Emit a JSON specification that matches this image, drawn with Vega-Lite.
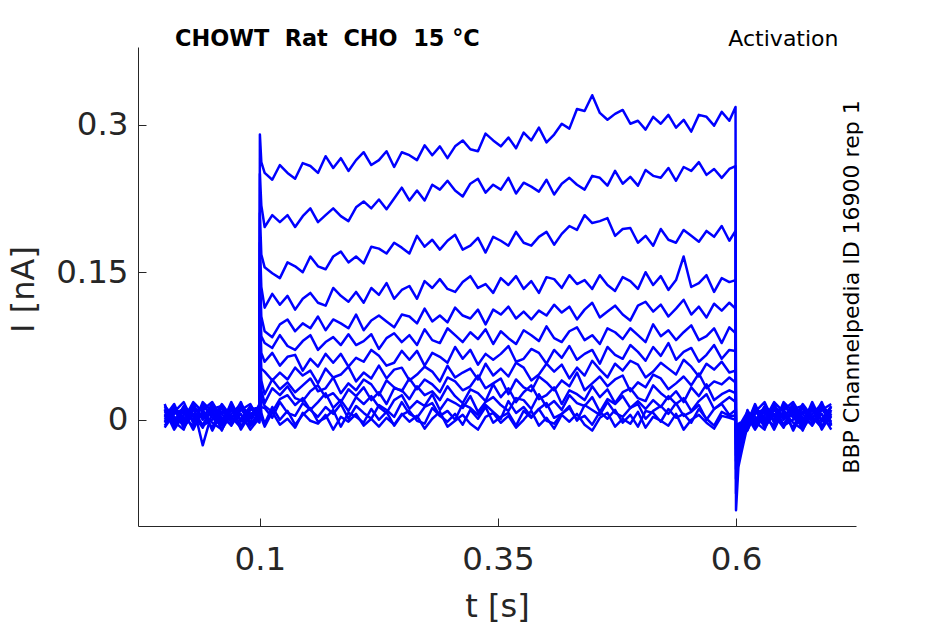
{
  "$schema": "https://vega.github.io/schema/vega-lite/v6.json",
  "width": 718,
  "height": 479,
  "autosize": {"type": "none"},
  "padding": {"left": 138, "top": 47, "right": 89, "bottom": 98},
  "background": "white",
  "config": {"view": {"stroke": null}, "font": "DejaVu Sans"},
  "title": {
    "text": "CHOWT\u00a0 Rat\u00a0 CHO\u00a0 15 °C",
    "anchor": "start", "frame": "group", "dx": 37, "dy": 41, "offset": 0,
    "baseline": "alphabetic",
    "fontSize": 22.4, "fontWeight": "bold", "color": "#000000", "font": "DejaVu Sans"
  },
  "data": {
    "values": [
      {"s":1,"t":0,"i":0.006},{"s":1,"t":0.01,"i":-0.005},{"s":1,"t":0.02,"i":0.013},{"s":1,"t":0.03,"i":-0.002},{"s":1,"t":0.04,"i":0.016},{"s":1,"t":0.05,"i":0.002},{"s":1,"t":0.06,"i":-0.006},{"s":1,"t":0.07,"i":0.010},{"s":1,"t":0.08,"i":0.000},{"s":1,"t":0.09,"i":0.014},{"s":1,"t":0.0995,"i":0.005},
      {"s":1,"t":0.1,"i":0.290},{"s":1,"t":0.1015,"i":0.262},
      {"s":1,"t":0.105,"i":0.251},{"s":1,"t":0.113,"i":0.244},{"s":1,"t":0.121,"i":0.259},{"s":1,"t":0.129,"i":0.251},{"s":1,"t":0.137,"i":0.245},{"s":1,"t":0.145,"i":0.261},{"s":1,"t":0.153,"i":0.258},{"s":1,"t":0.161,"i":0.251},{"s":1,"t":0.169,"i":0.268},{"s":1,"t":0.177,"i":0.256},
      {"s":1,"t":0.185,"i":0.266},{"s":1,"t":0.193,"i":0.253},{"s":1,"t":0.201,"i":0.264},{"s":1,"t":0.209,"i":0.272},{"s":1,"t":0.217,"i":0.259},{"s":1,"t":0.225,"i":0.264},{"s":1,"t":0.233,"i":0.273},{"s":1,"t":0.241,"i":0.257},{"s":1,"t":0.249,"i":0.272},{"s":1,"t":0.257,"i":0.269},
      {"s":1,"t":0.265,"i":0.264},{"s":1,"t":0.273,"i":0.279},{"s":1,"t":0.281,"i":0.269},{"s":1,"t":0.289,"i":0.278},{"s":1,"t":0.297,"i":0.266},{"s":1,"t":0.305,"i":0.278},{"s":1,"t":0.313,"i":0.284},{"s":1,"t":0.321,"i":0.275},{"s":1,"t":0.329,"i":0.273},{"s":1,"t":0.337,"i":0.291},
      {"s":1,"t":0.345,"i":0.284},{"s":1,"t":0.353,"i":0.278},{"s":1,"t":0.361,"i":0.287},{"s":1,"t":0.369,"i":0.276},{"s":1,"t":0.377,"i":0.292},{"s":1,"t":0.385,"i":0.284},{"s":1,"t":0.393,"i":0.297},{"s":1,"t":0.401,"i":0.282},{"s":1,"t":0.409,"i":0.290},{"s":1,"t":0.417,"i":0.301},
      {"s":1,"t":0.425,"i":0.296},{"s":1,"t":0.433,"i":0.316},{"s":1,"t":0.441,"i":0.314},{"s":1,"t":0.449,"i":0.330},{"s":1,"t":0.457,"i":0.312},{"s":1,"t":0.465,"i":0.305},{"s":1,"t":0.473,"i":0.311},{"s":1,"t":0.481,"i":0.315},{"s":1,"t":0.489,"i":0.301},{"s":1,"t":0.497,"i":0.304},
      {"s":1,"t":0.505,"i":0.295},{"s":1,"t":0.513,"i":0.308},{"s":1,"t":0.521,"i":0.301},{"s":1,"t":0.529,"i":0.310},{"s":1,"t":0.537,"i":0.297},{"s":1,"t":0.545,"i":0.305},{"s":1,"t":0.553,"i":0.293},{"s":1,"t":0.561,"i":0.310},{"s":1,"t":0.569,"i":0.308},{"s":1,"t":0.577,"i":0.299},
      {"s":1,"t":0.585,"i":0.313},{"s":1,"t":0.593,"i":0.304},{"s":1,"t":0.5995,"i":0.318},
      {"s":1,"t":0.6,"i":-0.092},{"s":1,"t":0.6025,"i":-0.048},{"s":1,"t":0.606,"i":-0.032},
      {"s":1,"t":0.612,"i":-0.006},{"s":1,"t":0.62,"i":0.013},{"s":1,"t":0.63,"i":0.002},{"s":1,"t":0.64,"i":-0.006},{"s":1,"t":0.65,"i":0.018},{"s":1,"t":0.66,"i":0.008},{"s":1,"t":0.67,"i":-0.002},{"s":1,"t":0.68,"i":0.014},{"s":1,"t":0.69,"i":-0.010},{"s":1,"t":0.7,"i":0.006},

      {"s":2,"t":0,"i":-0.002},{"s":2,"t":0.01,"i":0.011},{"s":2,"t":0.02,"i":-0.008},{"s":2,"t":0.03,"i":0.006},{"s":2,"t":0.04,"i":0.003},{"s":2,"t":0.05,"i":0.013},{"s":2,"t":0.06,"i":-0.003},{"s":2,"t":0.07,"i":0.016},{"s":2,"t":0.08,"i":0.000},{"s":2,"t":0.09,"i":-0.006},{"s":2,"t":0.0995,"i":0.008},
      {"s":2,"t":0.1,"i":0.250},{"s":2,"t":0.1015,"i":0.218},
      {"s":2,"t":0.105,"i":0.196},{"s":2,"t":0.113,"i":0.208},{"s":2,"t":0.121,"i":0.201},{"s":2,"t":0.129,"i":0.208},{"s":2,"t":0.137,"i":0.196},{"s":2,"t":0.145,"i":0.207},{"s":2,"t":0.153,"i":0.215},{"s":2,"t":0.161,"i":0.201},{"s":2,"t":0.169,"i":0.208},{"s":2,"t":0.177,"i":0.215},
      {"s":2,"t":0.185,"i":0.207},{"s":2,"t":0.193,"i":0.202},{"s":2,"t":0.201,"i":0.216},{"s":2,"t":0.209,"i":0.222},{"s":2,"t":0.217,"i":0.215},{"s":2,"t":0.225,"i":0.224},{"s":2,"t":0.233,"i":0.214},{"s":2,"t":0.241,"i":0.225},{"s":2,"t":0.249,"i":0.236},{"s":2,"t":0.257,"i":0.223},
      {"s":2,"t":0.265,"i":0.233},{"s":2,"t":0.273,"i":0.223},{"s":2,"t":0.281,"i":0.239},{"s":2,"t":0.289,"i":0.234},{"s":2,"t":0.297,"i":0.243},{"s":2,"t":0.305,"i":0.233},{"s":2,"t":0.313,"i":0.227},{"s":2,"t":0.321,"i":0.240},{"s":2,"t":0.329,"i":0.245},{"s":2,"t":0.337,"i":0.231},
      {"s":2,"t":0.345,"i":0.239},{"s":2,"t":0.353,"i":0.234},{"s":2,"t":0.361,"i":0.246},{"s":2,"t":0.369,"i":0.230},{"s":2,"t":0.377,"i":0.241},{"s":2,"t":0.385,"i":0.237},{"s":2,"t":0.393,"i":0.232},{"s":2,"t":0.401,"i":0.244},{"s":2,"t":0.409,"i":0.229},{"s":2,"t":0.417,"i":0.240},
      {"s":2,"t":0.425,"i":0.246},{"s":2,"t":0.433,"i":0.239},{"s":2,"t":0.441,"i":0.234},{"s":2,"t":0.449,"i":0.248},{"s":2,"t":0.457,"i":0.246},{"s":2,"t":0.465,"i":0.238},{"s":2,"t":0.473,"i":0.253},{"s":2,"t":0.481,"i":0.240},{"s":2,"t":0.489,"i":0.247},{"s":2,"t":0.497,"i":0.238},
      {"s":2,"t":0.505,"i":0.254},{"s":2,"t":0.513,"i":0.248},{"s":2,"t":0.521,"i":0.246},{"s":2,"t":0.529,"i":0.256},{"s":2,"t":0.537,"i":0.243},{"s":2,"t":0.545,"i":0.257},{"s":2,"t":0.553,"i":0.253},{"s":2,"t":0.561,"i":0.262},{"s":2,"t":0.569,"i":0.249},{"s":2,"t":0.577,"i":0.255},
      {"s":2,"t":0.585,"i":0.246},{"s":2,"t":0.593,"i":0.255},{"s":2,"t":0.5995,"i":0.258},
      {"s":2,"t":0.6,"i":-0.075},{"s":2,"t":0.6025,"i":-0.040},{"s":2,"t":0.606,"i":-0.028},
      {"s":2,"t":0.612,"i":0.005},{"s":2,"t":0.62,"i":-0.003},{"s":2,"t":0.63,"i":0.014},{"s":2,"t":0.64,"i":0.005},{"s":2,"t":0.65,"i":-0.008},{"s":2,"t":0.66,"i":0.013},{"s":2,"t":0.67,"i":0.006},{"s":2,"t":0.68,"i":-0.006},{"s":2,"t":0.69,"i":0.010},{"s":2,"t":0.7,"i":0.016},

      {"s":3,"t":0,"i":0.013},{"s":3,"t":0.01,"i":0.000},{"s":3,"t":0.02,"i":0.008},{"s":3,"t":0.03,"i":-0.010},{"s":3,"t":0.04,"i":0.010},{"s":3,"t":0.05,"i":0.018},{"s":3,"t":0.06,"i":0.002},{"s":3,"t":0.07,"i":-0.005},{"s":3,"t":0.08,"i":0.013},{"s":3,"t":0.09,"i":0.006},{"s":3,"t":0.0995,"i":-0.003},
      {"s":3,"t":0.1,"i":0.210},{"s":3,"t":0.1015,"i":0.168},
      {"s":3,"t":0.105,"i":0.155},{"s":3,"t":0.113,"i":0.149},{"s":3,"t":0.121,"i":0.144},{"s":3,"t":0.129,"i":0.160},{"s":3,"t":0.137,"i":0.156},{"s":3,"t":0.145,"i":0.150},{"s":3,"t":0.153,"i":0.166},{"s":3,"t":0.161,"i":0.156},{"s":3,"t":0.169,"i":0.153},{"s":3,"t":0.177,"i":0.166},
      {"s":3,"t":0.185,"i":0.171},{"s":3,"t":0.193,"i":0.160},{"s":3,"t":0.201,"i":0.166},{"s":3,"t":0.209,"i":0.159},{"s":3,"t":0.217,"i":0.176},{"s":3,"t":0.225,"i":0.174},{"s":3,"t":0.233,"i":0.169},{"s":3,"t":0.241,"i":0.180},{"s":3,"t":0.249,"i":0.175},{"s":3,"t":0.257,"i":0.169},
      {"s":3,"t":0.265,"i":0.187},{"s":3,"t":0.273,"i":0.176},{"s":3,"t":0.281,"i":0.183},{"s":3,"t":0.289,"i":0.173},{"s":3,"t":0.297,"i":0.182},{"s":3,"t":0.305,"i":0.188},{"s":3,"t":0.313,"i":0.173},{"s":3,"t":0.321,"i":0.177},{"s":3,"t":0.329,"i":0.185},{"s":3,"t":0.337,"i":0.170},
      {"s":3,"t":0.345,"i":0.186},{"s":3,"t":0.353,"i":0.182},{"s":3,"t":0.361,"i":0.177},{"s":3,"t":0.369,"i":0.191},{"s":3,"t":0.377,"i":0.180},{"s":3,"t":0.385,"i":0.177},{"s":3,"t":0.393,"i":0.186},{"s":3,"t":0.401,"i":0.191},{"s":3,"t":0.409,"i":0.178},{"s":3,"t":0.417,"i":0.189},
      {"s":3,"t":0.425,"i":0.197},{"s":3,"t":0.433,"i":0.193},{"s":3,"t":0.441,"i":0.208},{"s":3,"t":0.449,"i":0.200},{"s":3,"t":0.457,"i":0.202},{"s":3,"t":0.465,"i":0.205},{"s":3,"t":0.473,"i":0.187},{"s":3,"t":0.481,"i":0.194},{"s":3,"t":0.489,"i":0.195},{"s":3,"t":0.497,"i":0.180},
      {"s":3,"t":0.505,"i":0.187},{"s":3,"t":0.513,"i":0.177},{"s":3,"t":0.521,"i":0.194},{"s":3,"t":0.529,"i":0.183},{"s":3,"t":0.537,"i":0.180},{"s":3,"t":0.545,"i":0.193},{"s":3,"t":0.553,"i":0.187},{"s":3,"t":0.561,"i":0.181},{"s":3,"t":0.569,"i":0.192},{"s":3,"t":0.577,"i":0.186},
      {"s":3,"t":0.585,"i":0.197},{"s":3,"t":0.593,"i":0.182},{"s":3,"t":0.5995,"i":0.192},
      {"s":3,"t":0.6,"i":-0.060},{"s":3,"t":0.6025,"i":-0.035},{"s":3,"t":0.606,"i":-0.024},
      {"s":3,"t":0.612,"i":-0.003},{"s":3,"t":0.62,"i":0.016},{"s":3,"t":0.63,"i":-0.006},{"s":3,"t":0.64,"i":0.010},{"s":3,"t":0.65,"i":0.011},{"s":3,"t":0.66,"i":-0.011},{"s":3,"t":0.67,"i":0.008},{"s":3,"t":0.68,"i":0.002},{"s":3,"t":0.69,"i":0.014},{"s":3,"t":0.7,"i":-0.005},

      {"s":4,"t":0,"i":0.002},{"s":4,"t":0.01,"i":0.014},{"s":4,"t":0.02,"i":-0.003},{"s":4,"t":0.03,"i":0.011},{"s":4,"t":0.04,"i":-0.006},{"s":4,"t":0.05,"i":0.000},{"s":4,"t":0.06,"i":0.016},{"s":4,"t":0.07,"i":0.003},{"s":4,"t":0.08,"i":-0.008},{"s":4,"t":0.09,"i":0.010},{"s":4,"t":0.0995,"i":0.013},
      {"s":4,"t":0.1,"i":0.180},{"s":4,"t":0.1015,"i":0.135},
      {"s":4,"t":0.105,"i":0.114},{"s":4,"t":0.113,"i":0.128},{"s":4,"t":0.121,"i":0.117},{"s":4,"t":0.129,"i":0.126},{"s":4,"t":0.137,"i":0.112},{"s":4,"t":0.145,"i":0.123},{"s":4,"t":0.153,"i":0.129},{"s":4,"t":0.161,"i":0.119},{"s":4,"t":0.169,"i":0.116},{"s":4,"t":0.177,"i":0.134},
      {"s":4,"t":0.185,"i":0.126},{"s":4,"t":0.193,"i":0.120},{"s":4,"t":0.201,"i":0.130},{"s":4,"t":0.209,"i":0.119},{"s":4,"t":0.217,"i":0.134},{"s":4,"t":0.225,"i":0.127},{"s":4,"t":0.233,"i":0.139},{"s":4,"t":0.241,"i":0.123},{"s":4,"t":0.249,"i":0.132},{"s":4,"t":0.257,"i":0.136},
      {"s":4,"t":0.265,"i":0.123},{"s":4,"t":0.273,"i":0.141},{"s":4,"t":0.281,"i":0.134},{"s":4,"t":0.289,"i":0.143},{"s":4,"t":0.297,"i":0.133},{"s":4,"t":0.305,"i":0.130},{"s":4,"t":0.313,"i":0.140},{"s":4,"t":0.321,"i":0.146},{"s":4,"t":0.329,"i":0.134},{"s":4,"t":0.337,"i":0.138},
      {"s":4,"t":0.345,"i":0.129},{"s":4,"t":0.353,"i":0.144},{"s":4,"t":0.361,"i":0.137},{"s":4,"t":0.369,"i":0.146},{"s":4,"t":0.377,"i":0.133},{"s":4,"t":0.385,"i":0.141},{"s":4,"t":0.393,"i":0.129},{"s":4,"t":0.401,"i":0.145},{"s":4,"t":0.409,"i":0.143},{"s":4,"t":0.417,"i":0.134},
      {"s":4,"t":0.425,"i":0.147},{"s":4,"t":0.433,"i":0.138},{"s":4,"t":0.441,"i":0.142},{"s":4,"t":0.449,"i":0.133},{"s":4,"t":0.457,"i":0.147},{"s":4,"t":0.465,"i":0.137},{"s":4,"t":0.473,"i":0.131},{"s":4,"t":0.481,"i":0.145},{"s":4,"t":0.489,"i":0.141},{"s":4,"t":0.497,"i":0.133},
      {"s":4,"t":0.505,"i":0.150},{"s":4,"t":0.513,"i":0.137},{"s":4,"t":0.521,"i":0.146},{"s":4,"t":0.529,"i":0.132},{"s":4,"t":0.537,"i":0.142},{"s":4,"t":0.545,"i":0.166},{"s":4,"t":0.553,"i":0.135},{"s":4,"t":0.561,"i":0.139},{"s":4,"t":0.569,"i":0.147},{"s":4,"t":0.577,"i":0.130},
      {"s":4,"t":0.585,"i":0.144},{"s":4,"t":0.593,"i":0.140},{"s":4,"t":0.5995,"i":0.142},
      {"s":4,"t":0.6,"i":-0.050},{"s":4,"t":0.6025,"i":-0.030},{"s":4,"t":0.606,"i":-0.020},
      {"s":4,"t":0.612,"i":-0.010},{"s":4,"t":0.62,"i":0.006},{"s":4,"t":0.63,"i":0.011},{"s":4,"t":0.64,"i":0.000},{"s":4,"t":0.65,"i":0.014},{"s":4,"t":0.66,"i":0.005},{"s":4,"t":0.67,"i":-0.005},{"s":4,"t":0.68,"i":0.018},{"s":4,"t":0.69,"i":-0.002},{"s":4,"t":0.7,"i":0.013},

      {"s":5,"t":0,"i":0.010},{"s":5,"t":0.01,"i":-0.010},{"s":5,"t":0.02,"i":0.005},{"s":5,"t":0.03,"i":0.014},{"s":5,"t":0.04,"i":-0.026},{"s":5,"t":0.05,"i":0.008},{"s":5,"t":0.06,"i":0.011},{"s":5,"t":0.07,"i":0.000},{"s":5,"t":0.08,"i":0.018},{"s":5,"t":0.09,"i":-0.006},{"s":5,"t":0.0995,"i":0.003},
      {"s":5,"t":0.1,"i":0.150},{"s":5,"t":0.1015,"i":0.105},
      {"s":5,"t":0.105,"i":0.090},{"s":5,"t":0.113,"i":0.084},{"s":5,"t":0.121,"i":0.097},{"s":5,"t":0.129,"i":0.102},{"s":5,"t":0.137,"i":0.090},{"s":5,"t":0.145,"i":0.098},{"s":5,"t":0.153,"i":0.093},{"s":5,"t":0.161,"i":0.105},{"s":5,"t":0.169,"i":0.091},{"s":5,"t":0.177,"i":0.102},
      {"s":5,"t":0.185,"i":0.098},{"s":5,"t":0.193,"i":0.093},{"s":5,"t":0.201,"i":0.107},{"s":5,"t":0.209,"i":0.091},{"s":5,"t":0.217,"i":0.101},{"s":5,"t":0.225,"i":0.106},{"s":5,"t":0.233,"i":0.100},{"s":5,"t":0.241,"i":0.094},{"s":5,"t":0.249,"i":0.107},{"s":5,"t":0.257,"i":0.105},
      {"s":5,"t":0.265,"i":0.098},{"s":5,"t":0.273,"i":0.113},{"s":5,"t":0.281,"i":0.100},{"s":5,"t":0.289,"i":0.106},{"s":5,"t":0.297,"i":0.099},{"s":5,"t":0.305,"i":0.114},{"s":5,"t":0.313,"i":0.106},{"s":5,"t":0.321,"i":0.103},{"s":5,"t":0.329,"i":0.112},{"s":5,"t":0.337,"i":0.097},
      {"s":5,"t":0.345,"i":0.112},{"s":5,"t":0.353,"i":0.107},{"s":5,"t":0.361,"i":0.115},{"s":5,"t":0.369,"i":0.103},{"s":5,"t":0.377,"i":0.110},{"s":5,"t":0.385,"i":0.102},{"s":5,"t":0.393,"i":0.111},{"s":5,"t":0.401,"i":0.106},{"s":5,"t":0.409,"i":0.117},{"s":5,"t":0.417,"i":0.109},
      {"s":5,"t":0.425,"i":0.115},{"s":5,"t":0.433,"i":0.102},{"s":5,"t":0.441,"i":0.112},{"s":5,"t":0.449,"i":0.119},{"s":5,"t":0.457,"i":0.104},{"s":5,"t":0.465,"i":0.110},{"s":5,"t":0.473,"i":0.116},{"s":5,"t":0.481,"i":0.107},{"s":5,"t":0.489,"i":0.101},{"s":5,"t":0.497,"i":0.116},
      {"s":5,"t":0.505,"i":0.120},{"s":5,"t":0.513,"i":0.110},{"s":5,"t":0.521,"i":0.117},{"s":5,"t":0.529,"i":0.105},{"s":5,"t":0.537,"i":0.113},{"s":5,"t":0.545,"i":0.122},{"s":5,"t":0.553,"i":0.107},{"s":5,"t":0.561,"i":0.115},{"s":5,"t":0.569,"i":0.104},{"s":5,"t":0.577,"i":0.118},
      {"s":5,"t":0.585,"i":0.111},{"s":5,"t":0.593,"i":0.119},{"s":5,"t":0.5995,"i":0.113},
      {"s":5,"t":0.6,"i":-0.042},{"s":5,"t":0.6025,"i":-0.025},{"s":5,"t":0.606,"i":-0.016},
      {"s":5,"t":0.612,"i":0.002},{"s":5,"t":0.62,"i":-0.002},{"s":5,"t":0.63,"i":-0.010},{"s":5,"t":0.64,"i":0.013},{"s":5,"t":0.65,"i":0.002},{"s":5,"t":0.66,"i":0.016},{"s":5,"t":0.67,"i":0.000},{"s":5,"t":0.68,"i":0.011},{"s":5,"t":0.69,"i":-0.006},{"s":5,"t":0.7,"i":0.003},

      {"s":6,"t":0,"i":-0.006},{"s":6,"t":0.01,"i":0.008},{"s":6,"t":0.02,"i":0.018},{"s":6,"t":0.03,"i":-0.003},{"s":6,"t":0.04,"i":0.006},{"s":6,"t":0.05,"i":-0.008},{"s":6,"t":0.06,"i":0.013},{"s":6,"t":0.07,"i":0.002},{"s":6,"t":0.08,"i":0.011},{"s":6,"t":0.09,"i":-0.002},{"s":6,"t":0.0995,"i":0.016},
      {"s":6,"t":0.1,"i":0.130},{"s":6,"t":0.1015,"i":0.085},
      {"s":6,"t":0.105,"i":0.078},{"s":6,"t":0.113,"i":0.073},{"s":6,"t":0.121,"i":0.086},{"s":6,"t":0.129,"i":0.075},{"s":6,"t":0.137,"i":0.071},{"s":6,"t":0.145,"i":0.080},{"s":6,"t":0.153,"i":0.086},{"s":6,"t":0.161,"i":0.071},{"s":6,"t":0.169,"i":0.079},{"s":6,"t":0.177,"i":0.084},
      {"s":6,"t":0.185,"i":0.076},{"s":6,"t":0.193,"i":0.087},{"s":6,"t":0.201,"i":0.076},{"s":6,"t":0.209,"i":0.080},{"s":6,"t":0.217,"i":0.087},{"s":6,"t":0.225,"i":0.072},{"s":6,"t":0.233,"i":0.083},{"s":6,"t":0.241,"i":0.088},{"s":6,"t":0.249,"i":0.079},{"s":6,"t":0.257,"i":0.086},
      {"s":6,"t":0.265,"i":0.076},{"s":6,"t":0.273,"i":0.092},{"s":6,"t":0.281,"i":0.081},{"s":6,"t":0.289,"i":0.078},{"s":6,"t":0.297,"i":0.093},{"s":6,"t":0.305,"i":0.086},{"s":6,"t":0.313,"i":0.079},{"s":6,"t":0.321,"i":0.089},{"s":6,"t":0.329,"i":0.082},{"s":6,"t":0.337,"i":0.092},
      {"s":6,"t":0.345,"i":0.077},{"s":6,"t":0.353,"i":0.090},{"s":6,"t":0.361,"i":0.083},{"s":6,"t":0.369,"i":0.077},{"s":6,"t":0.377,"i":0.091},{"s":6,"t":0.385,"i":0.086},{"s":6,"t":0.393,"i":0.080},{"s":6,"t":0.401,"i":0.095},{"s":6,"t":0.409,"i":0.083},{"s":6,"t":0.417,"i":0.079},
      {"s":6,"t":0.425,"i":0.090},{"s":6,"t":0.433,"i":0.094},{"s":6,"t":0.441,"i":0.081},{"s":6,"t":0.449,"i":0.086},{"s":6,"t":0.457,"i":0.077},{"s":6,"t":0.465,"i":0.093},{"s":6,"t":0.473,"i":0.089},{"s":6,"t":0.481,"i":0.082},{"s":6,"t":0.489,"i":0.093},{"s":6,"t":0.497,"i":0.086},
      {"s":6,"t":0.505,"i":0.079},{"s":6,"t":0.513,"i":0.097},{"s":6,"t":0.521,"i":0.085},{"s":6,"t":0.529,"i":0.091},{"s":6,"t":0.537,"i":0.081},{"s":6,"t":0.545,"i":0.089},{"s":6,"t":0.553,"i":0.096},{"s":6,"t":0.561,"i":0.081},{"s":6,"t":0.569,"i":0.085},{"s":6,"t":0.577,"i":0.093},
      {"s":6,"t":0.585,"i":0.078},{"s":6,"t":0.593,"i":0.094},{"s":6,"t":0.5995,"i":0.088},
      {"s":6,"t":0.6,"i":-0.036},{"s":6,"t":0.6025,"i":-0.020},{"s":6,"t":0.606,"i":-0.013},
      {"s":6,"t":0.612,"i":0.010},{"s":6,"t":0.62,"i":-0.008},{"s":6,"t":0.63,"i":0.010},{"s":6,"t":0.64,"i":0.003},{"s":6,"t":0.65,"i":-0.005},{"s":6,"t":0.66,"i":0.011},{"s":6,"t":0.67,"i":0.014},{"s":6,"t":0.68,"i":-0.003},{"s":6,"t":0.69,"i":0.006},{"s":6,"t":0.7,"i":-0.010},

      {"s":7,"t":0,"i":0.014},{"s":7,"t":0.01,"i":0.003},{"s":7,"t":0.02,"i":-0.005},{"s":7,"t":0.03,"i":0.016},{"s":7,"t":0.04,"i":0.000},{"s":7,"t":0.05,"i":0.010},{"s":7,"t":0.06,"i":-0.011},{"s":7,"t":0.07,"i":0.013},{"s":7,"t":0.08,"i":0.005},{"s":7,"t":0.09,"i":-0.003},{"s":7,"t":0.0995,"i":0.002},
      {"s":7,"t":0.1,"i":0.110},{"s":7,"t":0.1015,"i":0.068},
      {"s":7,"t":0.105,"i":0.059},{"s":7,"t":0.113,"i":0.068},{"s":7,"t":0.121,"i":0.055},{"s":7,"t":0.129,"i":0.064},{"s":7,"t":0.137,"i":0.066},{"s":7,"t":0.145,"i":0.050},{"s":7,"t":0.153,"i":0.062},{"s":7,"t":0.161,"i":0.054},{"s":7,"t":0.169,"i":0.067},{"s":7,"t":0.177,"i":0.058},
      {"s":7,"t":0.185,"i":0.067},{"s":7,"t":0.193,"i":0.054},{"s":7,"t":0.201,"i":0.063},{"s":7,"t":0.209,"i":0.059},{"s":7,"t":0.217,"i":0.071},{"s":7,"t":0.225,"i":0.065},{"s":7,"t":0.233,"i":0.055},{"s":7,"t":0.241,"i":0.058},{"s":7,"t":0.249,"i":0.070},{"s":7,"t":0.257,"i":0.061},
      {"s":7,"t":0.265,"i":0.070},{"s":7,"t":0.273,"i":0.055},{"s":7,"t":0.281,"i":0.068},{"s":7,"t":0.289,"i":0.064},{"s":7,"t":0.297,"i":0.058},{"s":7,"t":0.305,"i":0.074},{"s":7,"t":0.313,"i":0.062},{"s":7,"t":0.321,"i":0.071},{"s":7,"t":0.329,"i":0.056},{"s":7,"t":0.337,"i":0.067},
      {"s":7,"t":0.345,"i":0.061},{"s":7,"t":0.353,"i":0.067},{"s":7,"t":0.361,"i":0.075},{"s":7,"t":0.369,"i":0.059},{"s":7,"t":0.377,"i":0.062},{"s":7,"t":0.385,"i":0.072},{"s":7,"t":0.393,"i":0.068},{"s":7,"t":0.401,"i":0.057},{"s":7,"t":0.409,"i":0.071},{"s":7,"t":0.417,"i":0.063},
      {"s":7,"t":0.425,"i":0.075},{"s":7,"t":0.433,"i":0.061},{"s":7,"t":0.441,"i":0.067},{"s":7,"t":0.449,"i":0.071},{"s":7,"t":0.457,"i":0.057},{"s":7,"t":0.465,"i":0.074},{"s":7,"t":0.473,"i":0.066},{"s":7,"t":0.481,"i":0.062},{"s":7,"t":0.489,"i":0.076},{"s":7,"t":0.497,"i":0.069},
      {"s":7,"t":0.505,"i":0.060},{"s":7,"t":0.513,"i":0.074},{"s":7,"t":0.521,"i":0.065},{"s":7,"t":0.529,"i":0.078},{"s":7,"t":0.537,"i":0.061},{"s":7,"t":0.545,"i":0.069},{"s":7,"t":0.553,"i":0.073},{"s":7,"t":0.561,"i":0.059},{"s":7,"t":0.569,"i":0.066},{"s":7,"t":0.577,"i":0.076},
      {"s":7,"t":0.585,"i":0.062},{"s":7,"t":0.593,"i":0.071},{"s":7,"t":0.5995,"i":0.070},
      {"s":7,"t":0.6,"i":-0.030},{"s":7,"t":0.6025,"i":-0.016},{"s":7,"t":0.606,"i":-0.010},
      {"s":7,"t":0.612,"i":-0.008},{"s":7,"t":0.62,"i":0.010},{"s":7,"t":0.63,"i":0.000},{"s":7,"t":0.64,"i":0.018},{"s":7,"t":0.65,"i":0.008},{"s":7,"t":0.66,"i":-0.003},{"s":7,"t":0.67,"i":-0.010},{"s":7,"t":0.68,"i":0.006},{"s":7,"t":0.69,"i":0.016},{"s":7,"t":0.7,"i":0.002},

      {"s":8,"t":0,"i":0.000},{"s":8,"t":0.01,"i":0.013},{"s":8,"t":0.02,"i":0.002},{"s":8,"t":0.03,"i":-0.006},{"s":8,"t":0.04,"i":0.018},{"s":8,"t":0.05,"i":0.008},{"s":8,"t":0.06,"i":-0.002},{"s":8,"t":0.07,"i":0.014},{"s":8,"t":0.08,"i":-0.010},{"s":8,"t":0.09,"i":0.006},{"s":8,"t":0.0995,"i":0.011},
      {"s":8,"t":0.1,"i":0.090},{"s":8,"t":0.1015,"i":0.052},
      {"s":8,"t":0.105,"i":0.049},{"s":8,"t":0.113,"i":0.040},{"s":8,"t":0.121,"i":0.048},{"s":8,"t":0.129,"i":0.041},{"s":8,"t":0.137,"i":0.053},{"s":8,"t":0.145,"i":0.045},{"s":8,"t":0.153,"i":0.050},{"s":8,"t":0.161,"i":0.037},{"s":8,"t":0.169,"i":0.052},{"s":8,"t":0.177,"i":0.043},
      {"s":8,"t":0.185,"i":0.046},{"s":8,"t":0.193,"i":0.054},{"s":8,"t":0.201,"i":0.039},{"s":8,"t":0.209,"i":0.048},{"s":8,"t":0.217,"i":0.042},{"s":8,"t":0.225,"i":0.055},{"s":8,"t":0.233,"i":0.042},{"s":8,"t":0.241,"i":0.051},{"s":8,"t":0.249,"i":0.053},{"s":8,"t":0.257,"i":0.040},
      {"s":8,"t":0.265,"i":0.046},{"s":8,"t":0.273,"i":0.054},{"s":8,"t":0.281,"i":0.049},{"s":8,"t":0.289,"i":0.039},{"s":8,"t":0.297,"i":0.055},{"s":8,"t":0.305,"i":0.043},{"s":8,"t":0.313,"i":0.048},{"s":8,"t":0.321,"i":0.052},{"s":8,"t":0.329,"i":0.041},{"s":8,"t":0.337,"i":0.057},
      {"s":8,"t":0.345,"i":0.045},{"s":8,"t":0.353,"i":0.052},{"s":8,"t":0.361,"i":0.044},{"s":8,"t":0.369,"i":0.058},{"s":8,"t":0.377,"i":0.053},{"s":8,"t":0.385,"i":0.040},{"s":8,"t":0.393,"i":0.046},{"s":8,"t":0.401,"i":0.057},{"s":8,"t":0.409,"i":0.049},{"s":8,"t":0.417,"i":0.056},
      {"s":8,"t":0.425,"i":0.042},{"s":8,"t":0.433,"i":0.053},{"s":8,"t":0.441,"i":0.045},{"s":8,"t":0.449,"i":0.060},{"s":8,"t":0.457,"i":0.051},{"s":8,"t":0.465,"i":0.043},{"s":8,"t":0.473,"i":0.057},{"s":8,"t":0.481,"i":0.050},{"s":8,"t":0.489,"i":0.060},{"s":8,"t":0.497,"i":0.056},
      {"s":8,"t":0.505,"i":0.043},{"s":8,"t":0.513,"i":0.049},{"s":8,"t":0.521,"i":0.058},{"s":8,"t":0.529,"i":0.052},{"s":8,"t":0.537,"i":0.046},{"s":8,"t":0.545,"i":0.061},{"s":8,"t":0.553,"i":0.054},{"s":8,"t":0.561,"i":0.044},{"s":8,"t":0.569,"i":0.057},{"s":8,"t":0.577,"i":0.051},
      {"s":8,"t":0.585,"i":0.059},{"s":8,"t":0.593,"i":0.048},{"s":8,"t":0.5995,"i":0.050},
      {"s":8,"t":0.6,"i":-0.025},{"s":8,"t":0.6025,"i":-0.013},{"s":8,"t":0.606,"i":-0.008},
      {"s":8,"t":0.612,"i":0.000},{"s":8,"t":0.62,"i":-0.005},{"s":8,"t":0.63,"i":0.013},{"s":8,"t":0.64,"i":-0.002},{"s":8,"t":0.65,"i":0.016},{"s":8,"t":0.66,"i":0.002},{"s":8,"t":0.67,"i":-0.006},{"s":8,"t":0.68,"i":0.010},{"s":8,"t":0.69,"i":0.000},{"s":8,"t":0.7,"i":0.014},

      {"s":9,"t":0,"i":0.011},{"s":9,"t":0.01,"i":-0.003},{"s":9,"t":0.02,"i":0.014},{"s":9,"t":0.03,"i":0.005},{"s":9,"t":0.04,"i":-0.008},{"s":9,"t":0.05,"i":0.013},{"s":9,"t":0.06,"i":0.006},{"s":9,"t":0.07,"i":-0.006},{"s":9,"t":0.08,"i":0.010},{"s":9,"t":0.09,"i":0.016},{"s":9,"t":0.0995,"i":-0.002},
      {"s":9,"t":0.1,"i":0.075},{"s":9,"t":0.1015,"i":0.040},
      {"s":9,"t":0.105,"i":0.026},{"s":9,"t":0.113,"i":0.041},{"s":9,"t":0.121,"i":0.031},{"s":9,"t":0.129,"i":0.038},{"s":9,"t":0.137,"i":0.028},{"s":9,"t":0.145,"i":0.035},{"s":9,"t":0.153,"i":0.042},{"s":9,"t":0.161,"i":0.029},{"s":9,"t":0.169,"i":0.032},{"s":9,"t":0.177,"i":0.043},
      {"s":9,"t":0.185,"i":0.027},{"s":9,"t":0.193,"i":0.037},{"s":9,"t":0.201,"i":0.030},{"s":9,"t":0.209,"i":0.041},{"s":9,"t":0.217,"i":0.036},{"s":9,"t":0.225,"i":0.025},{"s":9,"t":0.233,"i":0.040},{"s":9,"t":0.241,"i":0.033},{"s":9,"t":0.249,"i":0.029},{"s":9,"t":0.257,"i":0.042},
      {"s":9,"t":0.265,"i":0.031},{"s":9,"t":0.273,"i":0.041},{"s":9,"t":0.281,"i":0.036},{"s":9,"t":0.289,"i":0.028},{"s":9,"t":0.297,"i":0.043},{"s":9,"t":0.305,"i":0.039},{"s":9,"t":0.313,"i":0.030},{"s":9,"t":0.321,"i":0.034},{"s":9,"t":0.329,"i":0.045},{"s":9,"t":0.337,"i":0.032},
      {"s":9,"t":0.345,"i":0.037},{"s":9,"t":0.353,"i":0.042},{"s":9,"t":0.361,"i":0.026},{"s":9,"t":0.369,"i":0.041},{"s":9,"t":0.377,"i":0.033},{"s":9,"t":0.385,"i":0.029},{"s":9,"t":0.393,"i":0.044},{"s":9,"t":0.401,"i":0.038},{"s":9,"t":0.409,"i":0.030},{"s":9,"t":0.417,"i":0.040},
      {"s":9,"t":0.425,"i":0.034},{"s":9,"t":0.433,"i":0.048},{"s":9,"t":0.441,"i":0.030},{"s":9,"t":0.449,"i":0.037},{"s":9,"t":0.457,"i":0.044},{"s":9,"t":0.465,"i":0.034},{"s":9,"t":0.473,"i":0.041},{"s":9,"t":0.481,"i":0.045},{"s":9,"t":0.489,"i":0.029},{"s":9,"t":0.497,"i":0.038},
      {"s":9,"t":0.505,"i":0.033},{"s":9,"t":0.513,"i":0.046},{"s":9,"t":0.521,"i":0.042},{"s":9,"t":0.529,"i":0.031},{"s":9,"t":0.537,"i":0.037},{"s":9,"t":0.545,"i":0.044},{"s":9,"t":0.553,"i":0.035},{"s":9,"t":0.561,"i":0.047},{"s":9,"t":0.569,"i":0.032},{"s":9,"t":0.577,"i":0.039},
      {"s":9,"t":0.585,"i":0.036},{"s":9,"t":0.593,"i":0.043},{"s":9,"t":0.5995,"i":0.038},
      {"s":9,"t":0.6,"i":-0.020},{"s":9,"t":0.6025,"i":-0.010},{"s":9,"t":0.606,"i":-0.007},
      {"s":9,"t":0.612,"i":-0.006},{"s":9,"t":0.62,"i":0.011},{"s":9,"t":0.63,"i":-0.008},{"s":9,"t":0.64,"i":0.006},{"s":9,"t":0.65,"i":0.003},{"s":9,"t":0.66,"i":0.013},{"s":9,"t":0.67,"i":-0.003},{"s":9,"t":0.68,"i":0.016},{"s":9,"t":0.69,"i":0.000},{"s":9,"t":0.7,"i":-0.006},

      {"s":10,"t":0,"i":0.003},{"s":10,"t":0.01,"i":0.016},{"s":10,"t":0.02,"i":-0.006},{"s":10,"t":0.03,"i":0.010},{"s":10,"t":0.04,"i":0.011},{"s":10,"t":0.05,"i":-0.011},{"s":10,"t":0.06,"i":0.008},{"s":10,"t":0.07,"i":0.002},{"s":10,"t":0.08,"i":0.014},{"s":10,"t":0.09,"i":-0.005},{"s":10,"t":0.0995,"i":0.006},
      {"s":10,"t":0.1,"i":0.060},{"s":10,"t":0.1015,"i":0.030},
      {"s":10,"t":0.105,"i":0.017},{"s":10,"t":0.113,"i":0.032},{"s":10,"t":0.121,"i":0.025},{"s":10,"t":0.129,"i":0.034},{"s":10,"t":0.137,"i":0.022},{"s":10,"t":0.145,"i":0.019},{"s":10,"t":0.153,"i":0.029},{"s":10,"t":0.161,"i":0.035},{"s":10,"t":0.169,"i":0.023},{"s":10,"t":0.177,"i":0.027},
      {"s":10,"t":0.185,"i":0.018},{"s":10,"t":0.193,"i":0.031},{"s":10,"t":0.201,"i":0.024},{"s":10,"t":0.209,"i":0.033},{"s":10,"t":0.217,"i":0.020},{"s":10,"t":0.225,"i":0.028},{"s":10,"t":0.233,"i":0.016},{"s":10,"t":0.241,"i":0.032},{"s":10,"t":0.249,"i":0.030},{"s":10,"t":0.257,"i":0.021},
      {"s":10,"t":0.265,"i":0.034},{"s":10,"t":0.273,"i":0.025},{"s":10,"t":0.281,"i":0.029},{"s":10,"t":0.289,"i":0.020},{"s":10,"t":0.297,"i":0.034},{"s":10,"t":0.305,"i":0.024},{"s":10,"t":0.313,"i":0.017},{"s":10,"t":0.321,"i":0.031},{"s":10,"t":0.329,"i":0.027},{"s":10,"t":0.337,"i":0.019},
      {"s":10,"t":0.345,"i":0.036},{"s":10,"t":0.353,"i":0.023},{"s":10,"t":0.361,"i":0.032},{"s":10,"t":0.369,"i":0.018},{"s":10,"t":0.377,"i":0.028},{"s":10,"t":0.385,"i":0.035},{"s":10,"t":0.393,"i":0.021},{"s":10,"t":0.401,"i":0.025},{"s":10,"t":0.409,"i":0.033},{"s":10,"t":0.417,"i":0.016},
      {"s":10,"t":0.425,"i":0.030},{"s":10,"t":0.433,"i":0.026},{"s":10,"t":0.441,"i":0.020},{"s":10,"t":0.449,"i":0.034},{"s":10,"t":0.457,"i":0.023},{"s":10,"t":0.465,"i":0.031},{"s":10,"t":0.473,"i":0.017},{"s":10,"t":0.481,"i":0.028},{"s":10,"t":0.489,"i":0.032},{"s":10,"t":0.497,"i":0.022},
      {"s":10,"t":0.505,"i":0.019},{"s":10,"t":0.513,"i":0.035},{"s":10,"t":0.521,"i":0.027},{"s":10,"t":0.529,"i":0.021},{"s":10,"t":0.537,"i":0.029},{"s":10,"t":0.545,"i":0.018},{"s":10,"t":0.553,"i":0.033},{"s":10,"t":0.561,"i":0.024},{"s":10,"t":0.569,"i":0.036},{"s":10,"t":0.577,"i":0.020},
      {"s":10,"t":0.585,"i":0.026},{"s":10,"t":0.593,"i":0.030},{"s":10,"t":0.5995,"i":0.027},
      {"s":10,"t":0.6,"i":-0.017},{"s":10,"t":0.6025,"i":-0.008},{"s":10,"t":0.606,"i":-0.005},
      {"s":10,"t":0.612,"i":0.006},{"s":10,"t":0.62,"i":0.000},{"s":10,"t":0.63,"i":0.008},{"s":10,"t":0.64,"i":-0.010},{"s":10,"t":0.65,"i":0.010},{"s":10,"t":0.66,"i":0.018},{"s":10,"t":0.67,"i":0.002},{"s":10,"t":0.68,"i":-0.005},{"s":10,"t":0.69,"i":0.013},{"s":10,"t":0.7,"i":0.006},

      {"s":11,"t":0,"i":-0.008},{"s":11,"t":0.01,"i":0.006},{"s":11,"t":0.02,"i":0.011},{"s":11,"t":0.03,"i":0.000},{"s":11,"t":0.04,"i":0.014},{"s":11,"t":0.05,"i":0.005},{"s":11,"t":0.06,"i":-0.005},{"s":11,"t":0.07,"i":0.018},{"s":11,"t":0.08,"i":-0.002},{"s":11,"t":0.09,"i":0.013},{"s":11,"t":0.0995,"i":0.000},
      {"s":11,"t":0.1,"i":0.050},{"s":11,"t":0.1015,"i":0.022},
      {"s":11,"t":0.105,"i":0.014},{"s":11,"t":0.113,"i":0.008},{"s":11,"t":0.121,"i":0.021},{"s":11,"t":0.129,"i":0.025},{"s":11,"t":0.137,"i":0.015},{"s":11,"t":0.145,"i":0.022},{"s":11,"t":0.153,"i":0.010},{"s":11,"t":0.161,"i":0.018},{"s":11,"t":0.169,"i":0.027},{"s":11,"t":0.177,"i":0.012},
      {"s":11,"t":0.185,"i":0.020},{"s":11,"t":0.193,"i":0.009},{"s":11,"t":0.201,"i":0.023},{"s":11,"t":0.209,"i":0.016},{"s":11,"t":0.217,"i":0.024},{"s":11,"t":0.225,"i":0.013},{"s":11,"t":0.233,"i":0.007},{"s":11,"t":0.241,"i":0.020},{"s":11,"t":0.249,"i":0.025},{"s":11,"t":0.257,"i":0.011},
      {"s":11,"t":0.265,"i":0.019},{"s":11,"t":0.273,"i":0.014},{"s":11,"t":0.281,"i":0.026},{"s":11,"t":0.289,"i":0.010},{"s":11,"t":0.297,"i":0.021},{"s":11,"t":0.305,"i":0.017},{"s":11,"t":0.313,"i":0.012},{"s":11,"t":0.321,"i":0.024},{"s":11,"t":0.329,"i":0.008},{"s":11,"t":0.337,"i":0.018},
      {"s":11,"t":0.345,"i":0.023},{"s":11,"t":0.353,"i":0.015},{"s":11,"t":0.361,"i":0.009},{"s":11,"t":0.369,"i":0.022},{"s":11,"t":0.377,"i":0.020},{"s":11,"t":0.385,"i":0.011},{"s":11,"t":0.393,"i":0.026},{"s":11,"t":0.401,"i":0.013},{"s":11,"t":0.409,"i":0.019},{"s":11,"t":0.417,"i":0.010},
      {"s":11,"t":0.425,"i":0.025},{"s":11,"t":0.433,"i":0.017},{"s":11,"t":0.441,"i":0.014},{"s":11,"t":0.449,"i":0.023},{"s":11,"t":0.457,"i":0.008},{"s":11,"t":0.465,"i":0.021},{"s":11,"t":0.473,"i":0.016},{"s":11,"t":0.481,"i":0.024},{"s":11,"t":0.489,"i":0.012},{"s":11,"t":0.497,"i":0.019},
      {"s":11,"t":0.505,"i":0.011},{"s":11,"t":0.513,"i":0.020},{"s":11,"t":0.521,"i":0.013},{"s":11,"t":0.529,"i":0.024},{"s":11,"t":0.537,"i":0.016},{"s":11,"t":0.545,"i":0.022},{"s":11,"t":0.553,"i":0.009},{"s":11,"t":0.561,"i":0.019},{"s":11,"t":0.569,"i":0.026},{"s":11,"t":0.577,"i":0.011},
      {"s":11,"t":0.585,"i":0.017},{"s":11,"t":0.593,"i":0.023},{"s":11,"t":0.5995,"i":0.018},
      {"s":11,"t":0.6,"i":-0.014},{"s":11,"t":0.6025,"i":-0.007},{"s":11,"t":0.606,"i":-0.004},
      {"s":11,"t":0.612,"i":-0.003},{"s":11,"t":0.62,"i":0.014},{"s":11,"t":0.63,"i":-0.003},{"s":11,"t":0.64,"i":0.011},{"s":11,"t":0.65,"i":-0.006},{"s":11,"t":0.66,"i":0.000},{"s":11,"t":0.67,"i":0.016},{"s":11,"t":0.68,"i":0.003},{"s":11,"t":0.69,"i":-0.008},{"s":11,"t":0.7,"i":0.010},

      {"s":12,"t":0,"i":0.008},{"s":12,"t":0.01,"i":-0.002},{"s":12,"t":0.02,"i":-0.010},{"s":12,"t":0.03,"i":0.013},{"s":12,"t":0.04,"i":0.002},{"s":12,"t":0.05,"i":0.016},{"s":12,"t":0.06,"i":0.000},{"s":12,"t":0.07,"i":0.011},{"s":12,"t":0.08,"i":-0.006},{"s":12,"t":0.09,"i":0.003},{"s":12,"t":0.0995,"i":0.014},
      {"s":12,"t":0.1,"i":0.040},{"s":12,"t":0.1015,"i":0.013},
      {"s":12,"t":0.105,"i":0.012},{"s":12,"t":0.113,"i":0.002},{"s":12,"t":0.121,"i":0.018},{"s":12,"t":0.129,"i":0.007},{"s":12,"t":0.137,"i":0.004},{"s":12,"t":0.145,"i":0.017},{"s":12,"t":0.153,"i":0.010},{"s":12,"t":0.161,"i":0.003},{"s":12,"t":0.169,"i":0.013},{"s":12,"t":0.177,"i":0.006},
      {"s":12,"t":0.185,"i":0.016},{"s":12,"t":0.193,"i":0.001},{"s":12,"t":0.201,"i":0.014},{"s":12,"t":0.209,"i":0.007},{"s":12,"t":0.217,"i":0.001},{"s":12,"t":0.225,"i":0.015},{"s":12,"t":0.233,"i":0.010},{"s":12,"t":0.241,"i":0.003},{"s":12,"t":0.249,"i":0.018},{"s":12,"t":0.257,"i":0.006},
      {"s":12,"t":0.265,"i":0.002},{"s":12,"t":0.273,"i":0.013},{"s":12,"t":0.281,"i":0.017},{"s":12,"t":0.289,"i":0.004},{"s":12,"t":0.297,"i":0.009},{"s":12,"t":0.305,"i":0.000},{"s":12,"t":0.313,"i":0.016},{"s":12,"t":0.321,"i":0.012},{"s":12,"t":0.329,"i":0.005},{"s":12,"t":0.337,"i":0.015},
      {"s":12,"t":0.345,"i":0.008},{"s":12,"t":0.353,"i":0.001},{"s":12,"t":0.361,"i":0.019},{"s":12,"t":0.369,"i":0.007},{"s":12,"t":0.377,"i":0.013},{"s":12,"t":0.385,"i":0.003},{"s":12,"t":0.393,"i":0.011},{"s":12,"t":0.401,"i":0.017},{"s":12,"t":0.409,"i":0.002},{"s":12,"t":0.417,"i":0.006},
      {"s":12,"t":0.425,"i":0.014},{"s":12,"t":0.433,"i":-0.001},{"s":12,"t":0.441,"i":0.015},{"s":12,"t":0.449,"i":0.010},{"s":12,"t":0.457,"i":0.005},{"s":12,"t":0.465,"i":0.018},{"s":12,"t":0.473,"i":0.007},{"s":12,"t":0.481,"i":0.003},{"s":12,"t":0.489,"i":0.012},{"s":12,"t":0.497,"i":0.016},
      {"s":12,"t":0.505,"i":0.001},{"s":12,"t":0.513,"i":0.009},{"s":12,"t":0.521,"i":0.014},{"s":12,"t":0.529,"i":0.006},{"s":12,"t":0.537,"i":0.017},{"s":12,"t":0.545,"i":0.004},{"s":12,"t":0.553,"i":0.008},{"s":12,"t":0.561,"i":0.015},{"s":12,"t":0.569,"i":0.000},{"s":12,"t":0.577,"i":0.011},
      {"s":12,"t":0.585,"i":0.016},{"s":12,"t":0.593,"i":0.005},{"s":12,"t":0.5995,"i":0.010},
      {"s":12,"t":0.6,"i":-0.012},{"s":12,"t":0.6025,"i":-0.006},{"s":12,"t":0.606,"i":-0.004},
      {"s":12,"t":0.612,"i":0.003},{"s":12,"t":0.62,"i":-0.010},{"s":12,"t":0.63,"i":0.005},{"s":12,"t":0.64,"i":0.014},{"s":12,"t":0.65,"i":-0.005},{"s":12,"t":0.66,"i":0.008},{"s":12,"t":0.67,"i":0.011},{"s":12,"t":0.68,"i":0.000},{"s":12,"t":0.69,"i":0.018},{"s":12,"t":0.7,"i":-0.006},

      {"s":13,"t":0,"i":0.016},{"s":13,"t":0.01,"i":-0.008},{"s":13,"t":0.02,"i":0.010},{"s":13,"t":0.03,"i":0.003},{"s":13,"t":0.04,"i":-0.005},{"s":13,"t":0.05,"i":0.011},{"s":13,"t":0.06,"i":0.014},{"s":13,"t":0.07,"i":-0.003},{"s":13,"t":0.08,"i":0.006},{"s":13,"t":0.09,"i":-0.010},{"s":13,"t":0.0995,"i":0.002},
      {"s":13,"t":0.1,"i":0.030},{"s":13,"t":0.1015,"i":0.007},
      {"s":13,"t":0.105,"i":-0.004},{"s":13,"t":0.113,"i":0.013},{"s":13,"t":0.121,"i":0.000},{"s":13,"t":0.129,"i":0.009},{"s":13,"t":0.137,"i":-0.005},{"s":13,"t":0.145,"i":0.005},{"s":13,"t":0.153,"i":0.012},{"s":13,"t":0.161,"i":-0.002},{"s":13,"t":0.169,"i":0.002},{"s":13,"t":0.177,"i":0.010},
      {"s":13,"t":0.185,"i":-0.007},{"s":13,"t":0.193,"i":0.007},{"s":13,"t":0.201,"i":0.003},{"s":13,"t":0.209,"i":-0.003},{"s":13,"t":0.217,"i":0.011},{"s":13,"t":0.225,"i":0.000},{"s":13,"t":0.233,"i":0.008},{"s":13,"t":0.241,"i":-0.006},{"s":13,"t":0.249,"i":0.005},{"s":13,"t":0.257,"i":0.009},
      {"s":13,"t":0.265,"i":-0.001},{"s":13,"t":0.273,"i":-0.004},{"s":13,"t":0.281,"i":0.012},{"s":13,"t":0.289,"i":0.004},{"s":13,"t":0.297,"i":-0.002},{"s":13,"t":0.305,"i":0.006},{"s":13,"t":0.313,"i":-0.005},{"s":13,"t":0.321,"i":0.010},{"s":13,"t":0.329,"i":0.001},{"s":13,"t":0.337,"i":0.013},
      {"s":13,"t":0.345,"i":-0.003},{"s":13,"t":0.353,"i":0.003},{"s":13,"t":0.361,"i":0.007},{"s":13,"t":0.369,"i":-0.006},{"s":13,"t":0.377,"i":0.009},{"s":13,"t":0.385,"i":0.002},{"s":13,"t":0.393,"i":0.011},{"s":13,"t":0.401,"i":-0.001},{"s":13,"t":0.409,"i":-0.004},{"s":13,"t":0.417,"i":0.006},
      {"s":13,"t":0.425,"i":0.012},{"s":13,"t":0.433,"i":0.000},{"s":13,"t":0.441,"i":0.004},{"s":13,"t":0.449,"i":-0.005},{"s":13,"t":0.457,"i":0.008},{"s":13,"t":0.465,"i":0.001},{"s":13,"t":0.473,"i":0.010},{"s":13,"t":0.481,"i":-0.003},{"s":13,"t":0.489,"i":0.005},{"s":13,"t":0.497,"i":-0.007},
      {"s":13,"t":0.505,"i":0.009},{"s":13,"t":0.513,"i":0.007},{"s":13,"t":0.521,"i":-0.002},{"s":13,"t":0.529,"i":0.011},{"s":13,"t":0.537,"i":0.002},{"s":13,"t":0.545,"i":0.006},{"s":13,"t":0.553,"i":-0.003},{"s":13,"t":0.561,"i":0.011},{"s":13,"t":0.569,"i":0.001},{"s":13,"t":0.577,"i":-0.006},
      {"s":13,"t":0.585,"i":0.008},{"s":13,"t":0.593,"i":0.004},{"s":13,"t":0.5995,"i":0.004},
      {"s":13,"t":0.6,"i":-0.010},{"s":13,"t":0.6025,"i":-0.005},{"s":13,"t":0.606,"i":-0.003},
      {"s":13,"t":0.612,"i":-0.011},{"s":13,"t":0.62,"i":0.008},{"s":13,"t":0.63,"i":0.018},{"s":13,"t":0.64,"i":-0.003},{"s":13,"t":0.65,"i":0.006},{"s":13,"t":0.66,"i":-0.008},{"s":13,"t":0.67,"i":0.013},{"s":13,"t":0.68,"i":0.002},{"s":13,"t":0.69,"i":0.011},{"s":13,"t":0.7,"i":-0.002},

      {"s":14,"t":0,"i":-0.003},{"s":14,"t":0.01,"i":0.010},{"s":14,"t":0.02,"i":0.000},{"s":14,"t":0.03,"i":0.018},{"s":14,"t":0.04,"i":0.008},{"s":14,"t":0.05,"i":-0.003},{"s":14,"t":0.06,"i":-0.010},{"s":14,"t":0.07,"i":0.006},{"s":14,"t":0.08,"i":0.016},{"s":14,"t":0.09,"i":0.002},{"s":14,"t":0.0995,"i":0.010},
      {"s":14,"t":0.1,"i":0.025},{"s":14,"t":0.1015,"i":0.002},
      {"s":14,"t":0.105,"i":-0.007},{"s":14,"t":0.113,"i":0.008},{"s":14,"t":0.121,"i":-0.005},{"s":14,"t":0.129,"i":0.001},{"s":14,"t":0.137,"i":-0.008},{"s":14,"t":0.145,"i":0.007},{"s":14,"t":0.153,"i":-0.001},{"s":14,"t":0.161,"i":-0.004},{"s":14,"t":0.169,"i":0.005},{"s":14,"t":0.177,"i":-0.010},
      {"s":14,"t":0.185,"i":0.003},{"s":14,"t":0.193,"i":-0.002},{"s":14,"t":0.201,"i":0.006},{"s":14,"t":0.209,"i":-0.006},{"s":14,"t":0.217,"i":0.001},{"s":14,"t":0.225,"i":-0.007},{"s":14,"t":0.233,"i":0.002},{"s":14,"t":0.241,"i":-0.005},{"s":14,"t":0.249,"i":0.006},{"s":14,"t":0.257,"i":-0.002},
      {"s":14,"t":0.265,"i":0.004},{"s":14,"t":0.273,"i":-0.009},{"s":14,"t":0.281,"i":0.001},{"s":14,"t":0.289,"i":0.008},{"s":14,"t":0.297,"i":-0.007},{"s":14,"t":0.305,"i":-0.001},{"s":14,"t":0.313,"i":0.005},{"s":14,"t":0.321,"i":-0.004},{"s":14,"t":0.329,"i":-0.010},{"s":14,"t":0.337,"i":0.003},
      {"s":14,"t":0.345,"i":0.007},{"s":14,"t":0.353,"i":-0.003},{"s":14,"t":0.361,"i":0.004},{"s":14,"t":0.369,"i":-0.008},{"s":14,"t":0.377,"i":0.000},{"s":14,"t":0.385,"i":0.009},{"s":14,"t":0.393,"i":-0.006},{"s":14,"t":0.401,"i":0.002},{"s":14,"t":0.409,"i":-0.009},{"s":14,"t":0.417,"i":0.005},
      {"s":14,"t":0.425,"i":-0.002},{"s":14,"t":0.433,"i":0.006},{"s":14,"t":0.441,"i":-0.005},{"s":14,"t":0.449,"i":-0.011},{"s":14,"t":0.457,"i":0.002},{"s":14,"t":0.465,"i":0.007},{"s":14,"t":0.473,"i":-0.007},{"s":14,"t":0.481,"i":0.001},{"s":14,"t":0.489,"i":-0.004},{"s":14,"t":0.497,"i":0.008},
      {"s":14,"t":0.505,"i":-0.008},{"s":14,"t":0.513,"i":0.003},{"s":14,"t":0.521,"i":-0.001},{"s":14,"t":0.529,"i":-0.006},{"s":14,"t":0.537,"i":0.006},{"s":14,"t":0.545,"i":-0.010},{"s":14,"t":0.553,"i":0.000},{"s":14,"t":0.561,"i":0.005},{"s":14,"t":0.569,"i":-0.003},{"s":14,"t":0.577,"i":-0.009},
      {"s":14,"t":0.585,"i":0.004},{"s":14,"t":0.593,"i":0.002},{"s":14,"t":0.5995,"i":0.000},
      {"s":14,"t":0.6,"i":-0.008},{"s":14,"t":0.6025,"i":-0.004},{"s":14,"t":0.606,"i":-0.002},
      {"s":14,"t":0.612,"i":0.008},{"s":14,"t":0.62,"i":0.003},{"s":14,"t":0.63,"i":-0.005},{"s":14,"t":0.64,"i":0.016},{"s":14,"t":0.65,"i":0.000},{"s":14,"t":0.66,"i":0.010},{"s":14,"t":0.67,"i":-0.011},{"s":14,"t":0.68,"i":0.013},{"s":14,"t":0.69,"i":0.005},{"s":14,"t":0.7,"i":-0.003}
    ]
  },
  "layer": [
    {
      "mark": {"type": "line", "color": "#0000ff", "strokeWidth": 2.5, "strokeJoin": "round", "clip": true},
      "encoding": {
        "x": {
          "field": "t", "type": "quantitative",
          "scale": {"domain": [-0.028, 0.726], "nice": false, "zero": false},
          "axis": {
            "values": [0.1, 0.35, 0.6], "format": ".2~f", "title": "t [s]",
            "grid": false, "tickSize": -8, "tickWidth": 1, "tickColor": "#262626",
            "domainColor": "#262626", "domainWidth": 1,
            "labelFont": "DejaVu Sans", "labelFontSize": 32.5, "labelColor": "#262626", "labelPadding": 25,
            "labelFlush": false, "labelOverlap": false,
            "titleFont": "DejaVu Sans", "titleFontSize": 32, "titleFontWeight": "normal", "titleColor": "#262626",
            "titleBaseline": "alphabetic", "titleY": 90
          }
        },
        "y": {
          "field": "i", "type": "quantitative",
          "scale": {"domain": [-0.108, 0.379], "nice": false, "zero": false},
          "axis": {
            "values": [0, 0.15, 0.3], "format": ".2~f", "title": "I [nA]",
            "grid": false, "tickSize": -8, "tickWidth": 1, "tickColor": "#262626",
            "domainColor": "#262626", "domainWidth": 1,
            "labelFont": "DejaVu Sans", "labelFontSize": 32.5, "labelColor": "#262626", "labelPadding": 18,
            "labelFlush": false, "labelOverlap": false,
            "titleFont": "DejaVu Sans", "titleFontSize": 32, "titleFontWeight": "normal", "titleColor": "#262626",
            "titleBaseline": "alphabetic", "titleX": -105, "titleY": 242, "titleAngle": 270
          }
        },
        "detail": {"field": "s", "type": "nominal"}
      }
    },
    {
      "mark": {"type": "point", "opacity": 0},
      "encoding": {
        "x": {
          "field": "t", "type": "quantitative",
          "scale": {"domain": [-0.028, 0.726], "nice": false, "zero": false},
          "axis": {
            "orient": "top", "title": "Activation", "domain": false, "ticks": false, "labels": false, "grid": false,
            "titleFont": "DejaVu Sans", "titleFontSize": 22, "titleFontWeight": "normal", "titleColor": "#000000",
            "titleAlign": "right", "titleAnchor": "end", "titleBaseline": "alphabetic", "titleX": 700, "titleY": -2
          }
        },
        "y": {
          "field": "i", "type": "quantitative",
          "scale": {"domain": [-0.108, 0.379], "nice": false, "zero": false},
          "axis": {
            "orient": "right", "title": "BBP Channelpedia ID 16900 rep 1", "domain": false, "ticks": false, "labels": false, "grid": false,
            "titleFont": "DejaVu Sans", "titleFontSize": 22, "titleFontWeight": "normal", "titleColor": "#000000",
            "titleAngle": 270, "titleAlign": "center", "titleBaseline": "alphabetic", "titleX": 2, "titleY": 239.5
          }
        }
      }
    }
  ],
  "resolve": {"axis": {"x": "independent", "y": "independent"}}
}
